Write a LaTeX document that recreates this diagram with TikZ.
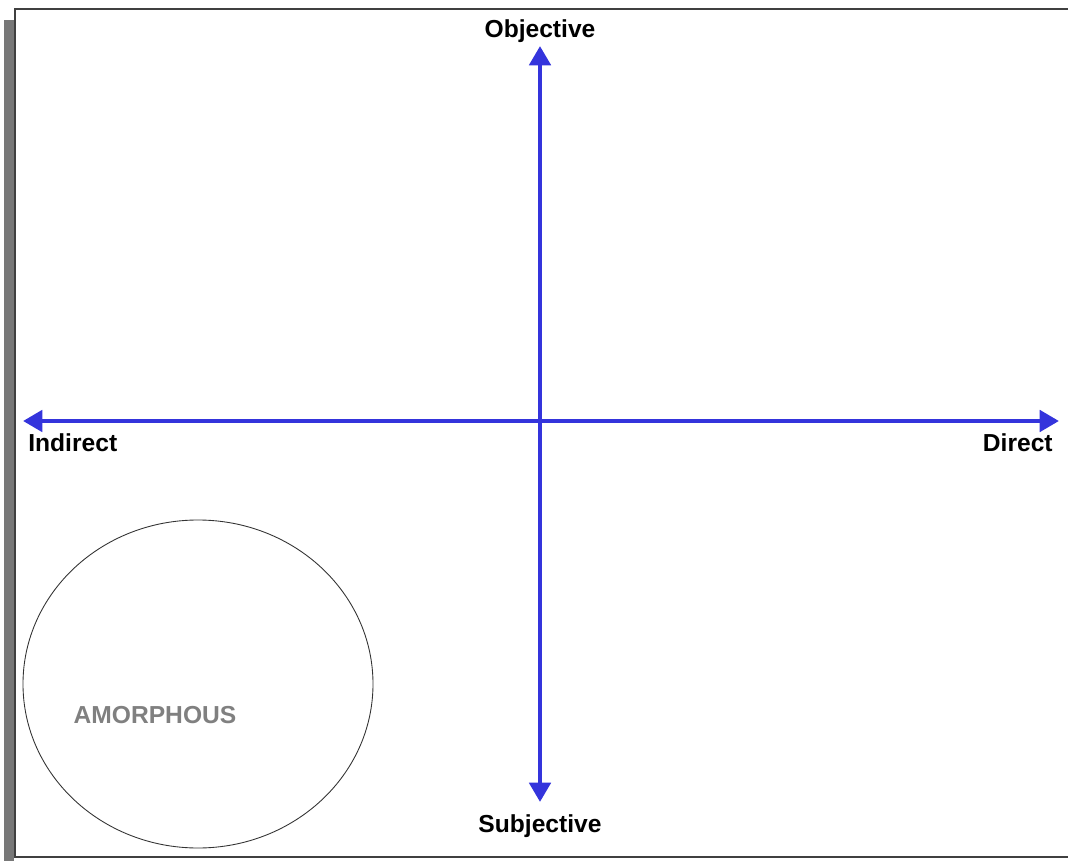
\documentclass[tikz,border=0pt]{standalone}
\usepackage{fontspec}
\setmainfont{Liberation Sans}
\usetikzlibrary{arrows.meta}
\definecolor{axisblue}{RGB}{52,52,220}
\definecolor{framegray}{RGB}{120,120,120}
\begin{document}
\begin{tikzpicture}[
  x=0.02cm, y=-0.02cm,
  axis/.style={draw=axisblue, line width=2.6pt, {Triangle[length=11pt,width=12pt]}-{Triangle[length=11pt,width=12pt]}},
  axlabel/.style={font=\fontsize{14}{16}\selectfont\bfseries, inner sep=0pt},
  >=Triangle
]
  \useasboundingbox (0,0) rectangle (1068,861);

  % frame
  \fill[framegray] (4,20) rectangle (14,861);
  \draw[line width=1.6pt, black!75] (1068,9) -- (15,9) -- (15,857) -- (1068,857);

  % axes
  \node[axlabel, anchor=base] (obj) at (540,38) {Objective};
  \node[axlabel, anchor=base] (subj) at (540,832) {Subjective};
  \node[axlabel, anchor=base west] (ind) at (28,451) {Indirect};
  \node[axlabel, anchor=base east] (dir) at (1053,451) {Direct};
  \coordinate (top) at (540,46);
  \coordinate (bot) at (540,802);
  \coordinate (lft) at (23,421);
  \coordinate (rgt) at (1059,421);
  \draw[axis] (bot) -- (top);
  \draw[axis] (lft) -- (rgt);

  % circle
  \draw[black!80, line width=0.5pt] (198,684) ellipse [x radius=175, y radius=164];
  \node[axlabel, text=black!50, anchor=base] (amor) at (155,723) {AMORPHOUS};
\end{tikzpicture}
\end{document}
